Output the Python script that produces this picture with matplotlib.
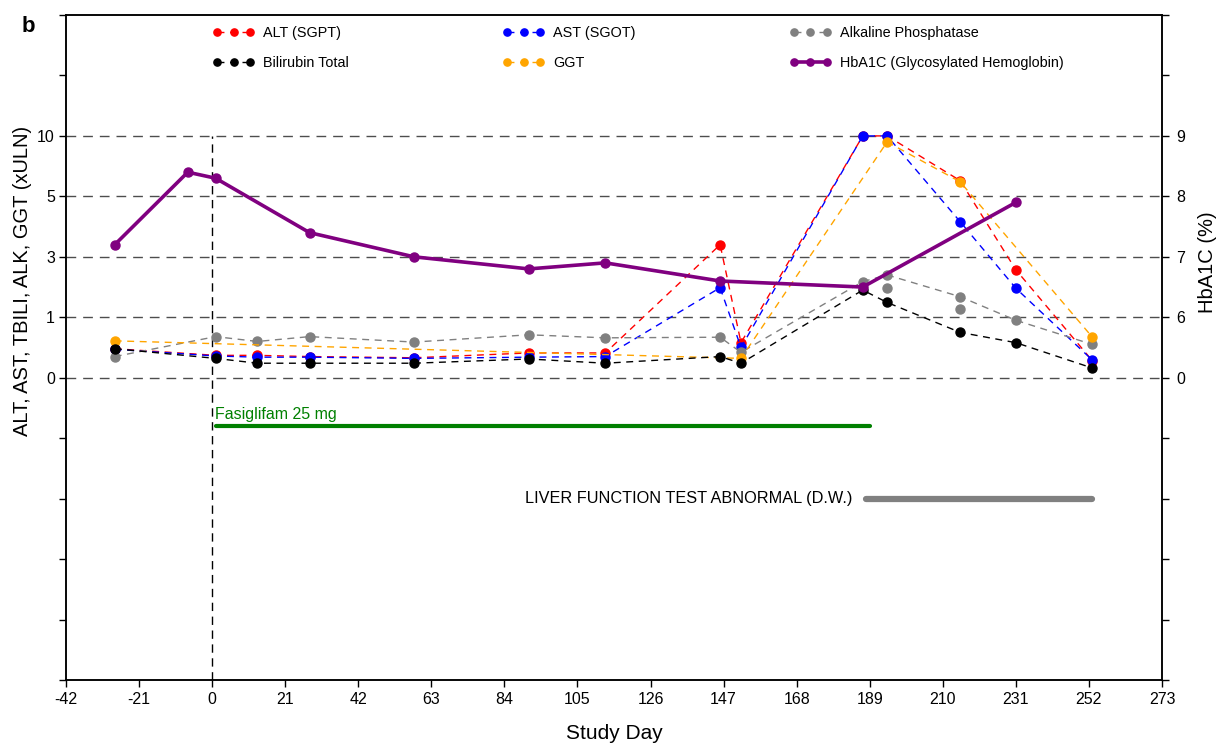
import numpy as np
import matplotlib
matplotlib.use('Agg')
import matplotlib.pyplot as plt

plt.rcParams['font.family'] = ['Liberation Sans', 'DejaVu Sans']
plt.rcParams['axes.unicode_minus'] = False

# ---------------- data ----------------
lab_days = [-28, 1, 13, 28, 58, 91, 113, 146, 152, 187, 194, 215, 231, 253]
alt_vals = [0.48, 0.37, 0.37, 0.35, 0.33, 0.41, 0.41, 3.4, 0.58, 10, 10, 6.3, 2.57, 0.28]
ast_vals = [0.47, 0.36, 0.34, 0.34, 0.32, 0.34, 0.35, 1.98, 0.50, 10, 10, 4.16, 1.96, 0.29]
bili_vals = [0.48, 0.32, 0.24, 0.24, 0.24, 0.31, 0.24, 0.35, 0.24, 1.90, 1.49, 0.75, 0.58, 0.16]
alk_vals = [0.35, 0.68, 0.60, 0.68, 0.59, 0.71, 0.66, 0.67, 0.42, 2.18, 2.40, 1.68, 0.95, 0.55]
alk_extra_days = [194, 215]
alk_extra_vals = [1.96, 1.26]
ggt_days = [-28, 152, 194, 215, 253]
ggt_vals = [0.61, 0.32, 9.5, 6.2, 0.67]
hb_days = [-28, -7, 1, 28, 58, 91, 113, 146, 187, 231]
hb_vals = [7.2, 8.4, 8.3, 7.4, 7.0, 6.8, 6.9, 6.6, 6.5, 7.9]

trt_label = 'Fasiglifam 25 mg'
trt_days = [1, 189]
ae_label = 'LIVER FUNCTION TEST ABNORMAL (D.W.)'
ae_days = [188, 253]

x_ticks = list(range(-42, 274, 21))
uln_ticks = [-5, -4, -3, -2, -1, 0, 1, 3, 5, 10, 15, 20]
uln_ticklabels = ['', '', '', '', '', '0', '1', '3', '5', '10', '', '']
hb_ticks = [-5, -4, -3, -2, -1, 0, 6, 7, 8, 9, 10, 11]
hb_ticklabels = ['', '', '', '', '', '0', '6', '7', '8', '9', '', '']
grid_vals = [0, 1, 3, 5, 10]

# ---------------- compressed (broken) scales ----------------
uln_bp = [-1000, 0, 1, 3, 5, 10, 1000]
uln_pp = [-1000, 0, 1, 2, 3, 4, 4 + 990 / 5]
hb_bp = [-1000, 0, 6, 9, 1000]
hb_pp = [-1000, 0, 1, 4, 995]


def f_uln(v):
    return np.interp(v, uln_bp, uln_pp)


def i_uln(p):
    return np.interp(p, uln_pp, uln_bp)


def f_hb(v):
    return np.interp(v, hb_bp, hb_pp)


def i_hb(p):
    return np.interp(p, hb_pp, hb_bp)


W, H = 1216, 744
fig = plt.figure(figsize=(W / 100, H / 100), dpi=100)
ax = fig.add_axes([66 / W, 64 / H, 1096 / W, 665 / H])
ax.set_yscale('function', functions=(f_uln, i_uln))
ax.set_xlim(-42, 273)
ax.set_ylim(-5, 20)

for v in grid_vals:
    ax.axhline(v, color='#4d4d4d', lw=1.0, ls=(0, (7, 5)), zorder=1)
ax.vlines(0, -5, 10, colors='black', lw=1.0, linestyles=(0, (6, 4)), zorder=1)

dash = (0, (5, 4))
ms = 6.5
series = [
    (lab_days, alt_vals, '#ff0000', 'ALT (SGPT)'),
    (lab_days, ast_vals, '#0000ff', 'AST (SGOT)'),
    (lab_days, alk_vals, '#808080', 'Alkaline Phosphatase'),
    (ggt_days, ggt_vals, '#ffa500', 'GGT'),
    (lab_days, bili_vals, '#000000', 'Bilirubin Total'),
]
handles = {}
for i, (d, v, c, lab) in enumerate(series):
    ln, = ax.plot(d, v, ls=dash, lw=1.0, color=c, marker='o', ms=ms,
                  mec=c, mfc=c, label=lab, zorder=3 + i * 0.1)
    handles[lab] = ln
    if lab == 'Alkaline Phosphatase':
        ax.plot(alk_extra_days, alk_extra_vals, ls='none', color=c,
                marker='o', ms=ms, zorder=3 + i * 0.1)

# treatment and adverse event bars
trt_y, ae_y = -0.80, -2.0
ax.plot(trt_days, [trt_y, trt_y], color='#008000', lw=3, solid_capstyle='round', zorder=3)
ax.text(trt_days[0] - 0.3, trt_y + 0.12, trt_label, color='#008000', fontsize=11.5,
        ha='left', va='baseline')
ax.plot(ae_days, [ae_y, ae_y], color='#808080', lw=4.5, solid_capstyle='round', zorder=3)
ax.text(ae_days[0] - 4.0, ae_y, ae_label, color='black', fontsize=11.7,
        ha='right', va='center')

ax.set_xticks(x_ticks)
ax.set_yticks(uln_ticks)
ax.set_yticklabels(uln_ticklabels)
ax.yaxis.set_minor_locator(matplotlib.ticker.NullLocator())
ax.tick_params(axis='both', direction='out', length=5, width=1, labelsize=11.5)
ax.tick_params(axis='y', pad=3)
ax.tick_params(axis='x', pad=4)
ax.set_xlabel('Study Day', fontsize=15, labelpad=12)
ax.set_ylabel('ALT, AST, TBILI, ALK, GGT (xULN)', fontsize=14.5)
ax.yaxis.set_label_coords(-0.031, 0.60)
for s in ax.spines.values():
    s.set_linewidth(1.1)

# HbA1C on right axis
ax2 = ax.twinx()
ax2.set_yscale('function', functions=(f_hb, i_hb))
ax2.set_ylim(-5, 11)
hb_line, = ax2.plot(hb_days, hb_vals, color='#800080', lw=2.6, marker='o', ms=ms,
                    label='HbA1C (Glycosylated Hemoglobin)', zorder=5)
ax2.set_yticks(hb_ticks)
ax2.set_yticklabels(hb_ticklabels)
ax2.yaxis.set_minor_locator(matplotlib.ticker.NullLocator())
ax2.tick_params(axis='y', direction='out', length=5, width=1, labelsize=11.5, pad=5)
ax2.set_ylabel('HbA1C (%)', fontsize=14.5)
ax2.yaxis.set_label_coords(1.033, 0.629)
for s in ax2.spines.values():
    s.set_linewidth(1.1)

hl = [handles['ALT (SGPT)'], handles['Bilirubin Total'], handles['AST (SGOT)'],
      handles['GGT'], handles['Alkaline Phosphatase'], hb_line]
ll = [h.get_label() for h in hl]
ax2.legend(hl, ll, ncol=3, loc='upper left', bbox_to_anchor=(0.129, 0.9925),
           frameon=False, fontsize=10.4, numpoints=3, markerscale=0.8,
           handlelength=2.88, handletextpad=0.6, columnspacing=10.65,
           labelspacing=1.1, borderaxespad=0, borderpad=0.4)

fig.text(22 / W, 1 - 16 / H, 'b', fontsize=16, fontweight='bold', ha='left', va='top')

fig.savefig('out.png', dpi=100)
